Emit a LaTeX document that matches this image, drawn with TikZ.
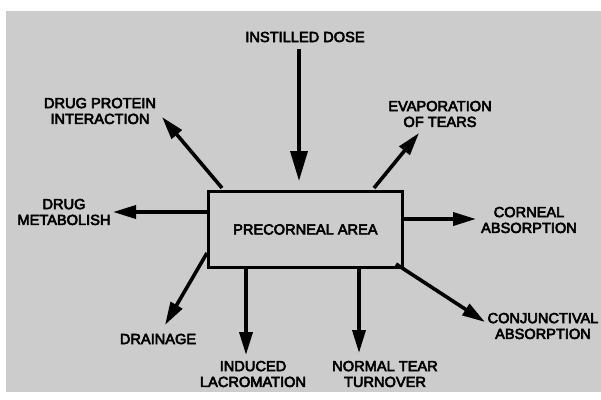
\documentclass[tikz,border=0pt]{standalone}
\usepackage{fontspec}
\newfontfamily\lblfont{Liberation Sans}[FakeBold=4]
\usetikzlibrary{arrows.meta}
\begin{document}
\begin{tikzpicture}[x=1pt,y=-1pt,
  lbl/.style={font=\lblfont\fontsize{14.6}{15.8}\selectfont, align=center, inner sep=0pt},
  flow/.style={line width=3.6pt, -{Triangle[length=23pt,width=13pt]}},
  box/.style={draw, line width=2.8pt, minimum width=194pt, minimum height=76pt, inner sep=0pt}]
\useasboundingbox (0,0) rectangle (601,399);
\fill[white] (0,0) rectangle (601,399);
\fill[black!20] (6,11) rectangle (601,392);
\node[box, lbl, anchor=north west] (pa) at (207,190) {PRECORNEAL AREA};
% labels
\node[lbl] (dose) at (305,37) {INSTILLED DOSE};
\node[lbl] (dpi) at (100,111) {DRUG PROTEIN\\INTERACTION};
\node[lbl] (evap) at (440,114) {EVAPORATION\\OF TEARS};
\node[lbl] (met) at (64,212) {DRUG\\METABOLISH};
\node[lbl] (corn) at (529,220) {CORNEAL\\ABSORPTION};
\node[lbl] (drain) at (158,339) {DRAINAGE};
\node[lbl] (ind) at (253,374) {INDUCED\\LACROMATION};
\node[lbl] (ntt) at (385,374) {NORMAL TEAR\\TURNOVER};
\node[lbl] (conj) at (543,326) {CONJUNCTIVAL\\ABSORPTION};
% arrow end points
\coordinate (doseS) at (299,49);
\coordinate (doseE) at (299,181);
\coordinate (dpiS) at (222,188);
\coordinate (dpiE) at (162,117);
\coordinate (evS) at (374,188);
\coordinate (evE) at (419,133);
\coordinate (metS) at (207,212);
\coordinate (metE) at (113,212);
\coordinate (coS) at (401,219);
\coordinate (coE) at (476,219);
\coordinate (drS) at (207,253);
\coordinate (drE) at (165,325);
\coordinate (inS) at (246,266);
\coordinate (inE) at (246,355);
\coordinate (ntS) at (359,266);
\coordinate (ntE) at (359,353);
\coordinate (cjS) at (396,264);
\coordinate (cjE) at (485,322);
\draw[flow,-{Triangle[length=30pt,width=17pt]}] (doseS) -- (doseE);
\draw[flow] (dpiS) -- (dpiE);
\draw[flow] (evS) -- (evE);
\draw[flow] (metS) -- (metE);
\draw[flow] (coS) -- (coE);
\draw[flow] (drS) -- (drE);
\draw[flow] (inS) -- (inE);
\draw[flow] (ntS) -- (ntE);
\draw[flow] (cjS) -- (cjE);
\end{tikzpicture}
\end{document}
